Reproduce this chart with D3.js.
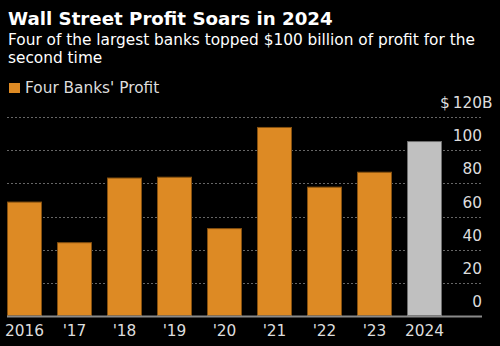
<!DOCTYPE html>
<html>
<head>
<meta charset="utf-8">
<script src="https://cdn.jsdelivr.net/npm/d3@7"></script>
<style>
  html, body { margin: 0; padding: 0; background: #000; }
  svg { display: block; }
  text { font-family: "DejaVu Sans", sans-serif; }
</style>
</head>
<body>
<div id="chart"></div>
<script>
// values, $ billions
const years = ['2016', "'17", "'18", "'19", "'20", "'21", "'22", "'23", '2024'];
const profit = [69, 44.5, 83.5, 84, 53, 114, 78, 87, 105.5];
const yTicks = [0, 20, 40, 60, 80, 100, 120];
const title = 'Wall Street Profit Soars in 2024';
const subtitle = ['Four of the largest banks topped $100 billion of profit for the', 'second time'];
const legendLabel = "Four Banks' Profit";

const width = 500, height = 346;
const orange = '#dd8a24', grey = '#c0c0c0';

const svg = d3.select('#chart').append('svg')
    .attr('width', width)
    .attr('height', height);

svg.append('rect').attr('width', width).attr('height', height).attr('fill', '#000');

// scale a text's font size so it spans roughly the width seen in the picture
function fitWidth(sel, target) {
    const base = +sel.attr('font-size');
    const w = sel.node().getComputedTextLength();
    const size = base * target / w;
    sel.attr('font-size', size.toFixed(2));
    return size;
}

// header
const titleText = svg.append('text')
    .attr('x', 8).attr('y', 25)
    .attr('fill', '#fff')
    .attr('font-size', 18)
    .attr('font-weight', 'bold')
    .text(title);
fitWidth(titleText, 325);

const subText = svg.append('g').selectAll('text')
    .data(subtitle)
    .join('text')
    .attr('x', 8)
    .attr('y', (d, i) => 45 + i * 17.5)
    .attr('fill', '#fff')
    .attr('font-size', 15)
    .text(d => d);
const subSize = fitWidth(subText.filter((d, i) => i === 0), 467);
subText.attr('font-size', subSize.toFixed(2));

const labelSize = subSize.toFixed(2);

// legend
svg.append('rect')
    .attr('x', 9).attr('y', 83)
    .attr('width', 11).attr('height', 10)
    .attr('fill', orange);
svg.append('text')
    .attr('x', 25).attr('y', 93)
    .attr('fill', '#ddd')
    .attr('font-size', labelSize)
    .text(legendLabel);

// scales
const x = d3.scaleBand()
    .domain(years)
    .range([7, 442])
    .paddingInner(0.3)
    .paddingOuter(0);

const y = d3.scaleLinear()
    .domain([0, 120])
    .range([316, 117]);

const gridRight = 482;

// gridlines
svg.append('g').selectAll('line')
    .data(yTicks.filter(d => d > 0))
    .join('line')
    .attr('x1', 7).attr('x2', gridRight)
    .attr('y1', d => Math.round(y(d)) + 0.5)
    .attr('y2', d => Math.round(y(d)) + 0.5)
    .attr('stroke', '#666')
    .attr('stroke-dasharray', '2,2');

// tick labels, sitting above their gridline
const tickG = svg.append('g');
tickG.selectAll('text')
    .data(yTicks)
    .join('text')
    .attr('x', gridRight)
    .attr('y', d => y(d) - 9)
    .attr('text-anchor', 'end')
    .attr('fill', '#ddd')
    .attr('font-size', labelSize)
    .text(d => d === 120 ? '$\u2009' + d : d);
tickG.append('text')
    .attr('x', gridRight)
    .attr('y', y(120) - 9)
    .attr('fill', '#ddd')
    .attr('font-size', labelSize)
    .text('B');

// bars
svg.append('g').selectAll('rect')
    .data(years)
    .join('rect')
    .attr('x', d => x(d) + 0.5)
    .attr('y', (d, i) => y(profit[i]) + 0.5)
    .attr('width', x.bandwidth() - 1)
    .attr('height', (d, i) => y(0) - y(profit[i]) - 1)
    .attr('fill', (d, i) => i === years.length - 1 ? grey : orange)
    .attr('stroke', (d, i) => i === years.length - 1 ? '#6e6e6e' : '#85500f')
    .attr('stroke-width', 1);

// baseline
svg.append('line')
    .attr('x1', 7).attr('x2', gridRight)
    .attr('y1', y(0) + 0.5).attr('y2', y(0) + 0.5)
    .attr('stroke', '#8a8a8a')
    .attr('stroke-width', 2);

// x axis labels
svg.append('g').selectAll('text')
    .data(years)
    .join('text')
    .attr('x', d => x(d) + x.bandwidth() / 2)
    .attr('y', 336)
    .attr('text-anchor', 'middle')
    .attr('fill', '#ddd')
    .attr('font-size', labelSize)
    .text(d => d);
</script>
</body>
</html>
